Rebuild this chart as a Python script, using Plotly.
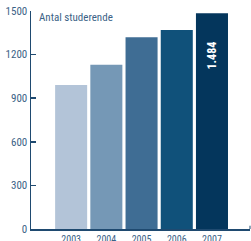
import plotly.graph_objects as go

years = ["2003", "2004", "2005", "2006", "2007"]
students = [990, 1130, 1320, 1370, 1484]
bar_colors = ["#b3c4d8", "#7598b6", "#3f6d94", "#10517a", "#04365c"]
y_ticks = [0, 300, 600, 900, 1200, 1500]
value_label = "1.484"

navy = "#1f4a70"
label_col = "#3b6286"
font_family = "Roboto Condensed, Roboto, DejaVu Sans Condensed, sans-serif"

fig = go.Figure()
fig.add_trace(go.Bar(
    x=list(range(len(years))), y=students,
    marker=dict(color=bar_colors, line=dict(width=0)),
    width=0.91,
    hoverinfo="skip",
))

fig.update_layout(
    width=251, height=241,
    margin=dict(l=31, r=1, t=11, b=12),
    plot_bgcolor="white", paper_bgcolor="white",
    showlegend=False,
    font=dict(family=font_family, color=label_col, size=10),
    annotations=[
        dict(text="Antal studerende", xref="paper", yref="paper",
             x=0.027, y=0.968, xanchor="left", yanchor="middle",
             showarrow=False, font=dict(size=11, color=label_col, family=font_family)),
        dict(text="<b>" + value_label + "</b>", xref="x", yref="y",
             x=len(years) - 1, y=students[-1] - 290, textangle=-90,
             showarrow=False, font=dict(size=12, color="white", family=font_family)),
    ],
    shapes=[dict(type="line", xref="paper", yref="paper",
                 x0=1, x1=1, y0=0, y1=0.015,
                 line=dict(color=navy, width=1))],
)
fig.update_xaxes(
    range=[-1.14, 5.08], automargin=False,
    tickmode="array", tickvals=list(range(len(years))), ticktext=years,
    showline=True, linecolor=navy, linewidth=1.5,
    showgrid=False, zeroline=False, ticks="",
    tickfont=dict(size=10, color=label_col),
)
fig.update_yaxes(
    range=[0, 1500], automargin=False,
    tickmode="array", tickvals=y_ticks, ticktext=[str(v) for v in y_ticks],
    showline=True, linecolor=navy, linewidth=1.5,
    showgrid=False, zeroline=False,
    ticks="inside", ticklen=5, tickcolor=navy, tickwidth=1.5,
    tickfont=dict(size=11, color=label_col),
)

fig.write_html(
    "out.html",
    config={"displayModeBar": False, "staticPlot": True},
    post_script="document.body.style.margin='0px';document.body.style.overflow='hidden';",
)
